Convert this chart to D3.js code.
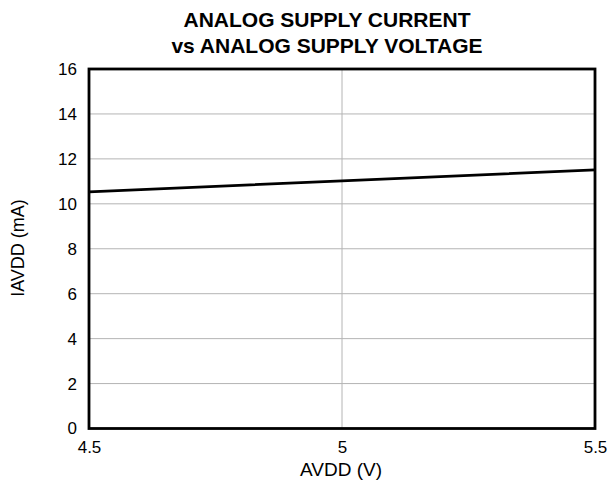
<!DOCTYPE html>
<html>
<head>
<meta charset="utf-8">
<script src="https://cdn.jsdelivr.net/npm/d3@7"></script>
<style>
  html, body { margin: 0; padding: 0; background: #fff; }
  text { font-family: "Liberation Sans", Arial, sans-serif; fill: #000; }
</style>
</head>
<body>
<script>
// Supply voltage (V) and analog supply current (mA)
const avdd = [4.5, 5.0, 5.5];
const iavdd = [10.53, 11.02, 11.51];
const xTicks = [4.5, 5, 5.5];
const yTicks = [0, 2, 4, 6, 8, 10, 12, 14, 16];
const titleLines = ["ANALOG SUPPLY CURRENT", "vs ANALOG SUPPLY VOLTAGE"];

const W = 609, H = 483;
const m = { left: 89, right: 14, top: 69, bottom: 54.5 };
const pw = W - m.left - m.right, ph = H - m.top - m.bottom;
const FONT = "'Liberation Sans', Arial, sans-serif";

const svg = d3.select("body").append("svg").attr("width", W).attr("height", H);

const x = d3.scaleLinear().domain([4.5, 5.5]).range([m.left, m.left + pw]);
const y = d3.scaleLinear().domain([0, 16]).range([m.top + ph, m.top]);

// grid
svg.append("g").selectAll("line").data(yTicks.slice(1, -1)).join("line")
  .attr("x1", m.left).attr("x2", m.left + pw)
  .attr("y1", d => y(d)).attr("y2", d => y(d))
  .attr("stroke", "#b4b4b4").attr("stroke-width", 1);
svg.append("g").selectAll("line").data(xTicks.slice(1, -1)).join("line")
  .attr("x1", d => x(d)).attr("x2", d => x(d))
  .attr("y1", m.top).attr("y2", m.top + ph)
  .attr("stroke", "#b4b4b4").attr("stroke-width", 1);

// tick labels
const yAxis = d3.axisLeft(y).tickValues(yTicks).tickSize(0).tickPadding(12).tickFormat(d3.format("d"));
svg.append("g").attr("transform", `translate(${m.left},0)`).call(yAxis)
  .call(g => g.select(".domain").remove())
  .selectAll("text").style("font-size", "17px").style("font-family", FONT);

const xAxis = d3.axisBottom(x).tickValues(xTicks).tickSize(0).tickPadding(12).tickFormat(d => String(d));
svg.append("g").attr("transform", `translate(0,${m.top + ph})`).call(xAxis)
  .call(g => g.select(".domain").remove())
  .selectAll("text").style("font-size", "17px").style("font-family", FONT);

// data line
svg.append("path").datum(avdd.map((v, i) => [v, iavdd[i]]))
  .attr("fill", "none").attr("stroke", "#000").attr("stroke-width", 2.7)
  .attr("d", d3.line().x(d => x(d[0])).y(d => y(d[1])));

// frame
svg.append("rect").attr("x", m.left).attr("y", m.top).attr("width", pw).attr("height", ph)
  .attr("fill", "none").attr("stroke", "#000").attr("stroke-width", 2.8);

// title
svg.append("g").selectAll("text").data(titleLines).join("text")
  .attr("x", 327).attr("y", (d, i) => 27 + i * 26)
  .attr("text-anchor", "middle").style("font-size", "21px").style("font-weight", "bold")
  .text(d => d);

// axis titles
svg.append("text").attr("x", 341).attr("y", 476)
  .attr("text-anchor", "middle").style("font-size", "19px").text("AVDD (V)");
svg.append("text").attr("transform", `translate(24,248) rotate(-90)`)
  .attr("text-anchor", "middle").style("font-size", "18px").text("IAVDD (mA)");
</script>
</body>
</html>
